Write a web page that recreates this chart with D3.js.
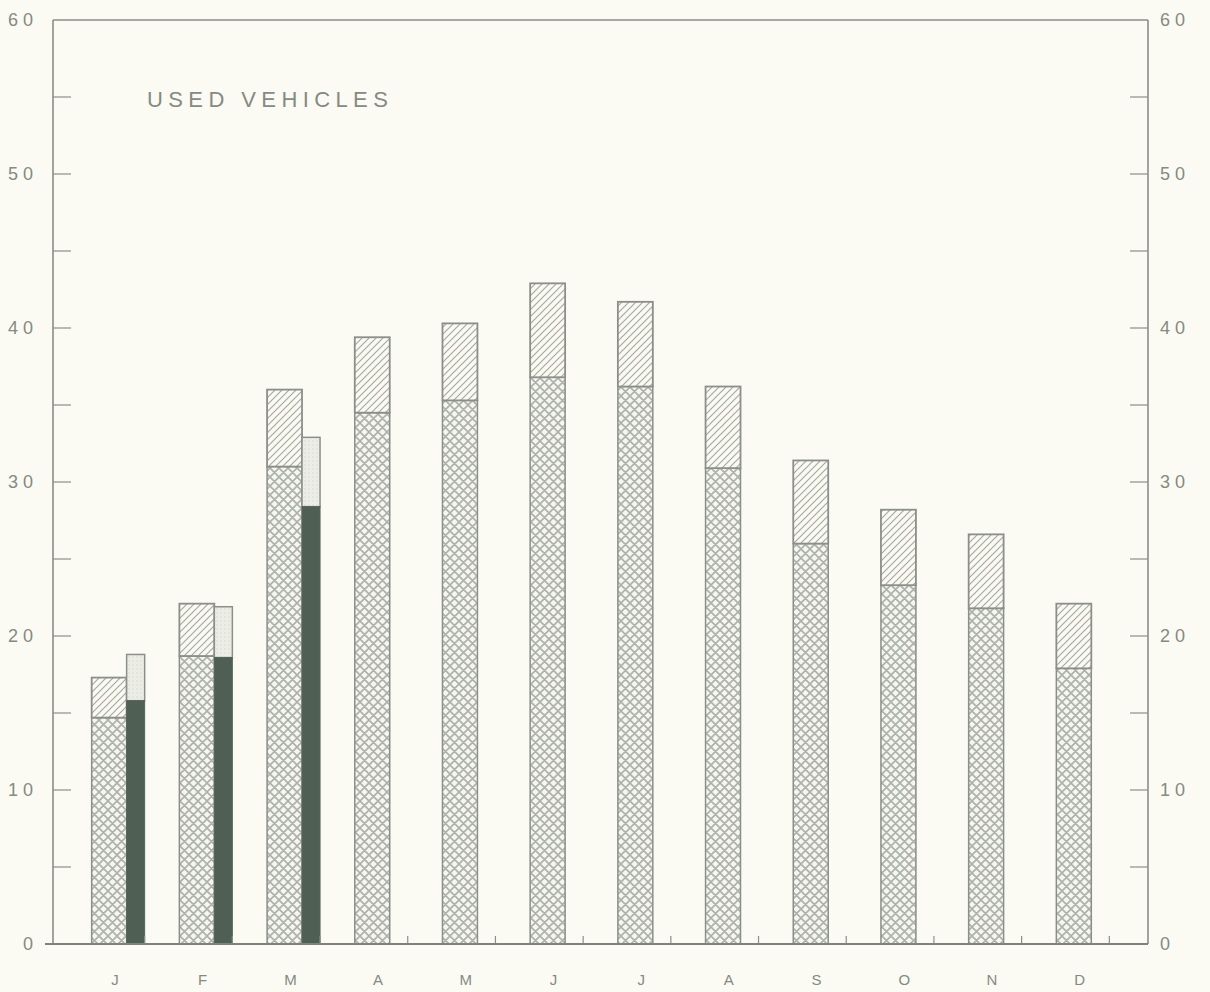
<!DOCTYPE html>
<html>
<head>
<meta charset="utf-8">
<script src="https://cdn.jsdelivr.net/npm/d3@7"></script>
<style>
  html, body { margin: 0; padding: 0; background: #fbfbf4; }
  svg { display: block; }
  text { font-family: "Liberation Sans", "DejaVu Sans", sans-serif; fill: #858a82; }
</style>
</head>
<body>
<script>
// ---- data ----
const months = ["J","F","M","A","M","J","J","A","S","O","N","D"];
const prevTotal = [17.3, 22.1, 36.0, 39.4, 40.3, 42.9, 41.7, 36.2, 31.4, 28.2, 26.6, 22.1];
const prevLower = [14.7, 18.7, 31.0, 34.5, 35.3, 36.8, 36.2, 30.9, 26.0, 23.3, 21.8, 17.9];
const currTotal = [18.8, 21.9, 32.9];
const currLower = [15.8, 18.6, 28.4];
const yTicks = [0, 10, 20, 30, 40, 50, 60];
const yMinor = [5, 15, 25, 35, 45, 55];
const title = "USED VEHICLES";

const W = 1210, H = 992;
const L = 53, R = 1148, T = 20, B = 944;
const ink = "#8b8f88";

const svg = d3.select("body").append("svg").attr("width", W).attr("height", H);
svg.append("rect").attr("width", W).attr("height", H).attr("fill", "#fbfbf4");

const defs = svg.append("defs");
// crosshatch
const ch = defs.append("pattern").attr("id", "cross").attr("patternUnits", "userSpaceOnUse")
  .attr("width", 9).attr("height", 9);
ch.append("rect").attr("width", 9).attr("height", 9).attr("fill", "#f5f6ef");
ch.append("path").attr("d", "M0,0 L9,9 M9,0 L0,9 M-1,8 L1,10 M8,-1 L10,1 M-1,1 L1,-1 M8,10 L10,8")
  .attr("stroke", "#adb1a9").attr("stroke-width", 1.6);
// diagonal hatch
const dh = defs.append("pattern").attr("id", "diag").attr("patternUnits", "userSpaceOnUse")
  .attr("width", 7).attr("height", 7);
dh.append("rect").attr("width", 7).attr("height", 7).attr("fill", "#fafaf3");
dh.append("path").attr("d", "M0,7 L7,0 M-1,1 L1,-1 M6,8 L8,6")
  .attr("stroke", "#a6aaa2").attr("stroke-width", 1.2);
// light stipple
const st = defs.append("pattern").attr("id", "stip").attr("patternUnits", "userSpaceOnUse")
  .attr("width", 4).attr("height", 4);
st.append("rect").attr("width", 4).attr("height", 4).attr("fill", "#eceee6");
st.append("circle").attr("cx", 1).attr("cy", 1).attr("r", 0.7).attr("fill", "#d3d6ce");

// ---- scales ----
const y = d3.scaleLinear().domain([0, 60]).range([B, T]);
const x = d3.scaleBand().domain(d3.range(12)).range([L, R]).paddingInner(0.396).paddingOuter(0.441);
const w1 = x.bandwidth() * 0.66, w2 = x.bandwidth() - w1;

// ---- frame ----
svg.append("line").attr("x1", L).attr("x2", R).attr("y1", T).attr("y2", T)
  .attr("stroke", ink).attr("stroke-width", 1.6);
svg.append("line").attr("x1", L).attr("x2", L).attr("y1", T).attr("y2", B)
  .attr("stroke", ink).attr("stroke-width", 1.6);
svg.append("line").attr("x1", R).attr("x2", R).attr("y1", T).attr("y2", B)
  .attr("stroke", ink).attr("stroke-width", 1.6);

// y ticks (inside)
const tickLen = 18;
[...yTicks, ...yMinor].forEach(v => {
  if (v === 0 || v === 60) return;
  svg.append("line").attr("x1", L).attr("x2", L + tickLen).attr("y1", y(v)).attr("y2", y(v))
    .attr("stroke", ink).attr("stroke-width", 1.2);
  svg.append("line").attr("x1", R - tickLen).attr("x2", R).attr("y1", y(v)).attr("y2", y(v))
    .attr("stroke", ink).attr("stroke-width", 1.2);
});
yTicks.forEach(v => {
  svg.append("text").attr("x", L - 15).attr("y", y(v)).attr("dy", "0.36em")
    .attr("text-anchor", "end").attr("font-size", 18).attr("letter-spacing", 5)
    .text(v);
  svg.append("text").attr("x", R + 12).attr("y", y(v)).attr("dy", "0.36em")
    .attr("text-anchor", "start").attr("font-size", 18).attr("letter-spacing", 5)
    .text(v);
});

// ---- bars ----
const g = svg.append("g");
months.forEach((m, i) => {
  const x0 = x(i);
  g.append("rect").attr("x", x0).attr("width", w1)
    .attr("y", y(prevLower[i])).attr("height", y(0) - y(prevLower[i]))
    .attr("fill", "url(#cross)").attr("stroke", ink).attr("stroke-width", 1.5);
  g.append("rect").attr("x", x0).attr("width", w1)
    .attr("y", y(prevTotal[i])).attr("height", y(prevLower[i]) - y(prevTotal[i]))
    .attr("fill", "url(#diag)").attr("stroke", ink).attr("stroke-width", 1.8);
  if (i < currTotal.length) {
    const x1 = x0 + w1;
    g.append("rect").attr("x", x1).attr("width", w2)
      .attr("y", y(currTotal[i])).attr("height", y(currLower[i]) - y(currTotal[i]))
      .attr("fill", "url(#stip)").attr("stroke", ink).attr("stroke-width", 1.5);
    g.append("rect").attr("x", x1).attr("width", w2)
      .attr("y", y(currLower[i])).attr("height", y(0) - y(currLower[i]))
      .attr("fill", "#4f5f54").attr("stroke", "#55645a").attr("stroke-width", 1);
  }
  svg.append("line").attr("x1", x0 + x.bandwidth()).attr("x2", x0 + x.bandwidth())
    .attr("y1", B).attr("y2", B - 8).attr("stroke", ink).attr("stroke-width", 1.2);
  svg.append("text").attr("x", x0 + x.bandwidth() * 0.44).attr("y", 985)
    .attr("text-anchor", "middle").attr("font-size", 15).text(m);
});

// baseline
svg.append("line").attr("x1", 45).attr("x2", R).attr("y1", B).attr("y2", B)
  .attr("stroke", "#7f837c").attr("stroke-width", 2.2);

// title
svg.append("text").attr("x", 147).attr("y", 107).attr("font-size", 22)
  .attr("letter-spacing", 5.4).text(title);
</script>
</body>
</html>
